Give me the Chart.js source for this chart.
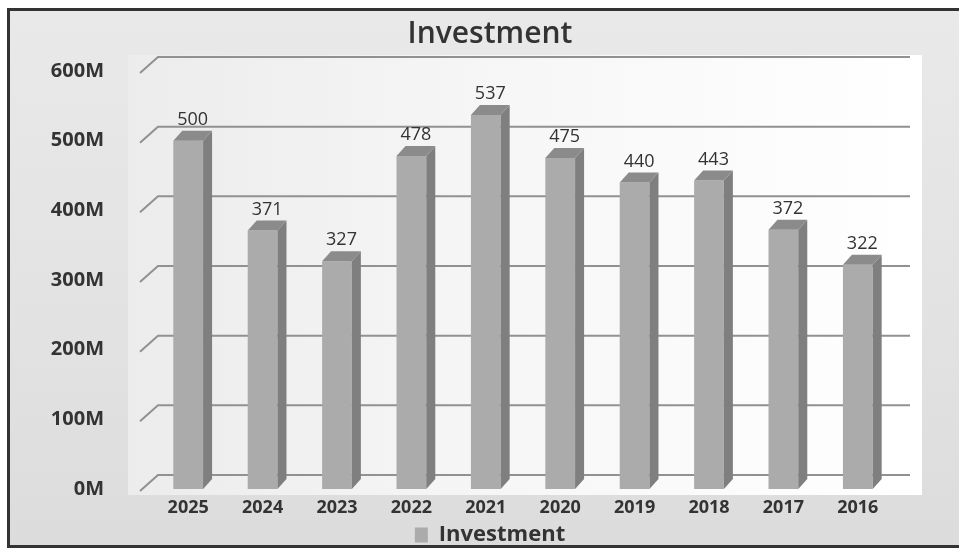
<!DOCTYPE html>
<html>
<head>
<meta charset="utf-8">
<script src="https://cdn.jsdelivr.net/npm/chart.js@4.4.1/dist/chart.umd.min.js"></script>
<style>
    html, body { margin: 0; padding: 0; background: #fff; overflow: hidden; width: 959px; height: 548px; }
    #frame {
        position: absolute; left: 7px; top: 8px; width: 1000px; height: 540px;
        box-sizing: border-box; border: 3px solid #333;
        background: linear-gradient(180deg, #e9e9e9 0%, #e2e2e2 60%, #dcdcdc 100%);
    }
    #wrap { position: absolute; left: 0; top: 0; width: 980px; height: 548px; }
</style>
</head>
<body>
<div id="frame"></div>
<div id="wrap"><canvas id="investChart" width="980" height="548"></canvas></div>
<script>
// chart data (values in millions)
const years = ["2025", "2024", "2023", "2022", "2021", "2020", "2019", "2018", "2017", "2016"];
const investment = [500, 371, 327, 478, 537, 475, 440, 443, 372, 322];
const yTicks = [0, 100, 200, 300, 400, 500, 600];

const FONT = "'Open Sans', sans-serif";
const DEPTH_X = 9, DEPTH_Y = 10;

// light plot panel + back wall grid lines
const backWall = {
    id: "backWall",
    beforeDraw(chart) {
        const { ctx, chartArea } = chart;
        ctx.save();
        const g = ctx.createLinearGradient(chartArea.left - 23, 0, chartArea.right + 27, 0);
        g.addColorStop(0, "#ececec");
        g.addColorStop(0.5, "#f7f7f7");
        g.addColorStop(1, "#ffffff");
        ctx.fillStyle = g;
        ctx.fillRect(chartArea.left - 23, 55, chartArea.right - chartArea.left + 50, chartArea.bottom - 55 + 6);
        ctx.restore();
    },
    beforeDatasetsDraw(chart) {
        const { ctx, chartArea } = chart;
        const y = chart.scales.y;
        ctx.save();
        ctx.strokeStyle = "#919191";
        ctx.lineWidth = 2;
        yTicks.forEach(v => {
            const yf = y.getPixelForValue(v);
            ctx.beginPath();
            ctx.moveTo(chartArea.left - 11, yf + 2);
            ctx.lineTo(chartArea.left + 7, yf - 14);
            ctx.lineTo(chartArea.left + 759, yf - 14);
            ctx.stroke();
        });
        ctx.restore();
    }
};

// side / top faces and value labels
const bars3d = {
    id: "bars3d",
    afterDatasetsDraw(chart) {
        const { ctx } = chart;
        const meta = chart.getDatasetMeta(0);
        ctx.save();
        meta.data.forEach((bar, i) => {
            const x0 = bar.x - bar.width / 2, x1 = bar.x + bar.width / 2;
            const top = bar.y, bottom = bar.base;
            // right side
            ctx.fillStyle = "#7f7f7f";
            ctx.beginPath();
            ctx.moveTo(x1, top);
            ctx.lineTo(x1 + DEPTH_X, top - DEPTH_Y);
            ctx.lineTo(x1 + DEPTH_X, bottom - DEPTH_Y);
            ctx.lineTo(x1, bottom);
            ctx.closePath();
            ctx.fill();
            // top cap
            ctx.fillStyle = "#8b8b8b";
            ctx.beginPath();
            ctx.moveTo(x0, top);
            ctx.lineTo(x0 + DEPTH_X, top - DEPTH_Y);
            ctx.lineTo(x1 + DEPTH_X, top - DEPTH_Y);
            ctx.lineTo(x1, top);
            ctx.closePath();
            ctx.fill();
            // value label
            ctx.fillStyle = "#333";
            ctx.font = "18px " + FONT;
            ctx.textAlign = "center";
            ctx.textBaseline = "middle";
            ctx.fillText(String(investment[i]), bar.x + DEPTH_X / 2, top - DEPTH_Y - 11);
        });
        ctx.restore();
    }
};

const ctx = document.getElementById("investChart").getContext("2d");
new Chart(ctx, {
    type: "bar",
    data: {
        labels: years,
        datasets: [{
            label: "Investment",
            data: investment,
            backgroundColor: "#ababab",
            borderWidth: 0,
            barPercentage: 0.4,
            categoryPercentage: 1.0,
        }],
    },
    options: {
        responsive: false,
        animation: false,
        layout: { padding: 0 },
        plugins: {
            title: {
                display: true,
                text: "Investment",
                color: "#333",
                font: { family: FONT, size: 30, weight: "600" },
                padding: { top: 16, bottom: 19 },
            },
            legend: {
                position: "bottom",
                maxHeight: 25,
                labels: {
                    color: "#333",
                    font: { family: FONT, size: 22, weight: "bold" },
                    boxWidth: 13,
                    boxHeight: 15,
                    padding: 1,
                },
            },
            tooltip: { enabled: false },
        },
        scales: {
            x: {
                grid: { display: false, drawTicks: false },
                border: { display: false },
                ticks: {
                    color: "#333",
                    padding: 8,
                    font: { family: FONT, size: 18, weight: "bold" },
                },
                afterFit(s) { s.height = 34; },
            },
            y: {
                min: 0,
                max: 600,
                grid: { display: false, drawTicks: false },
                border: { display: false },
                ticks: {
                    stepSize: 100,
                    color: "#333",
                    padding: 47,
                    font: { family: FONT, size: 20, weight: "bold" },
                    callback: v => v + "M",
                },
                afterFit(s) { s.width = 151; },
            },
            yR: {
                type: "linear",
                position: "right",
                display: true,
                grid: { display: false, drawTicks: false },
                border: { display: false },
                ticks: { display: false },
                afterFit(s) { s.width = 85; },
            },
        },
    },
    plugins: [backWall, bars3d],
});
</script>
</body>
</html>
